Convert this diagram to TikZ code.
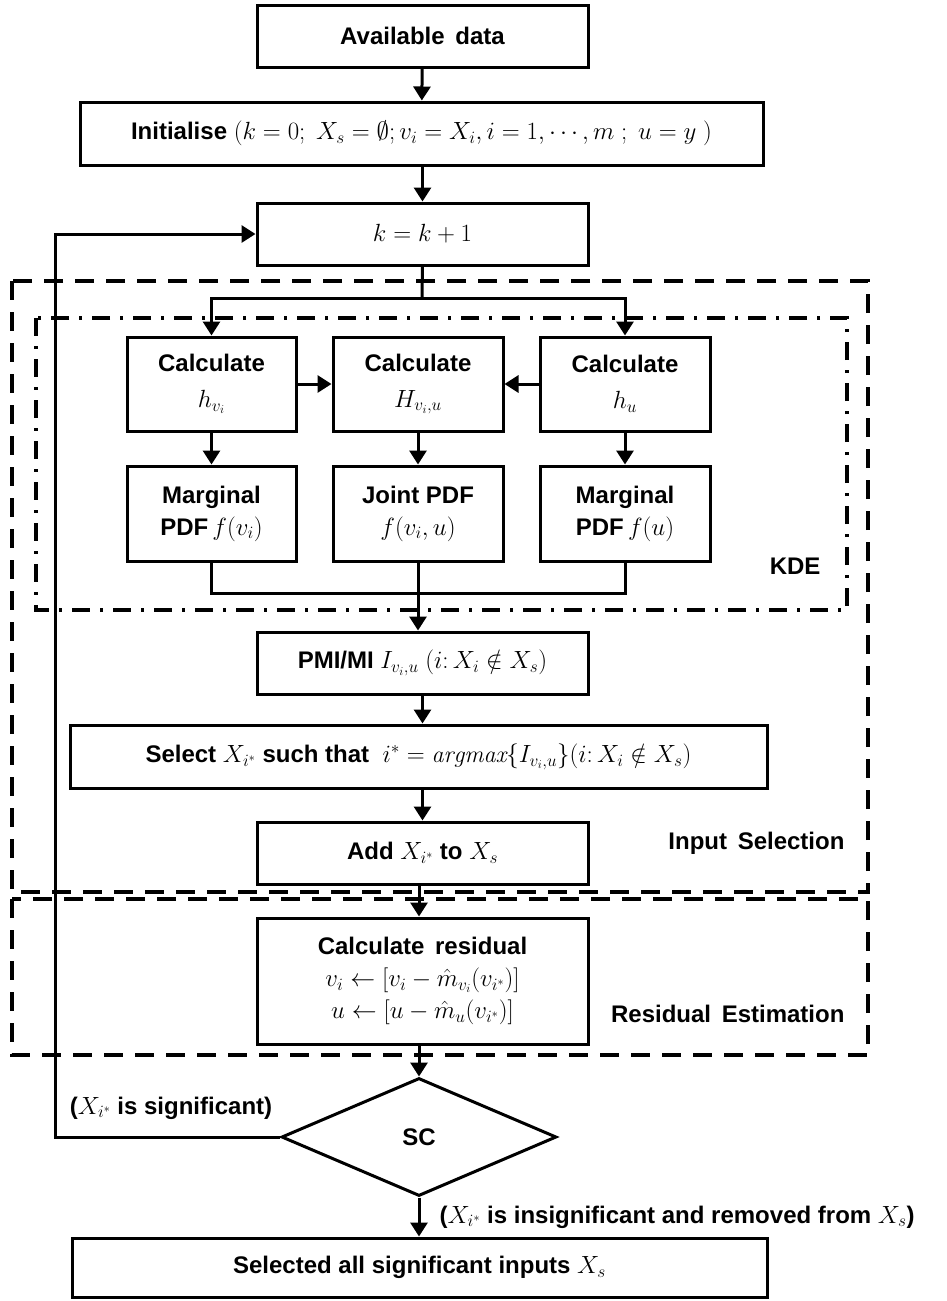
\documentclass[tikz,border=0pt]{standalone}
\usepackage{fontspec}
\usetikzlibrary{arrows.meta,shapes.geometric}
\newfontfamily\arb{Liberation Sans}
\begin{document}
\begin{tikzpicture}[x=1pt,y=-1pt,
  every node/.style={font=\arb\bfseries\fontsize{24}{32}\selectfont},
  box/.style={draw,line width=3pt,inner sep=0pt,align=center},
  arr/.style={line width=3pt,-{Triangle[width=17pt,length=14pt]}},
  ln/.style={line width=3pt},
  dashbox/.style={line width=3.5pt,dash pattern=on 19pt off 12pt},
  dotbox/.style={line width=3.5pt,dash pattern=on 18pt off 10pt on 3pt off 10pt}]
\useasboundingbox (0,0) rectangle (947,1301);
% group frames
\draw[dashbox] (12,281) rectangle (868,892);
\draw[dotbox] (36,318) rectangle (847,610);
\draw[dashbox] (12,899) rectangle (868,1055);
\node[anchor=east] (kde) at (824,566) {KDE};
\node[anchor=east] (insel) at (848,843) {Input\, Selection};
\node[anchor=east] (resest) at (848,1014) {Residual\, Estimation};
% main boxes
\node[box,minimum width=331pt,minimum height=62pt] (avail) at (422.5,36) {Available\, data};
\node[box,minimum width=683pt,minimum height=63pt] (init) at (421.5,133.5) {Initialise $\big(k=0;\ X_s=\emptyset; v_i=X_i, i=1,\cdots,m\ ;\ u=y\ \big)$};
\node[box,minimum width=331pt,minimum height=62pt] (kb) at (422.5,234) {$k=k+1$};
\node[box,minimum width=169pt,minimum height=94pt] (c1) at (211.5,384) {Calculate\\[4pt]$h_{v_i}$};
\node[box,minimum width=170pt,minimum height=94pt] (c2) at (418,384) {Calculate\\[4pt]$H_{v_i,u}$};
\node[box,minimum width=170pt,minimum height=94pt] (c3) at (625,384) {Calculate\\[4pt]$h_u$};
\node[box,minimum width=169pt,minimum height=95pt] (m1) at (211.5,513.5) {Marginal\\PDF$\,f(v_i)$};
\node[box,minimum width=170pt,minimum height=95pt] (m2) at (418,513.5) {Joint PDF\\$f(v_i,u)$};
\node[box,minimum width=170pt,minimum height=95pt] (m3) at (625,513.5) {Marginal\\PDF$\,f(u)$};
\node[box,minimum width=331pt,minimum height=62pt] (pmi) at (422.5,663) {PMI/MI $I_{v_i,u}\ (i\colon X_i\notin X_s)$};
\node[box,minimum width=697pt,minimum height=63pt] (sel) at (418.5,756.5) {Select $X_{i^*}$ such that\; $i^*=\mathit{argmax}\{I_{v_i,u}\}(i\colon X_i\notin X_s)$};
\node[box,minimum width=331pt,minimum height=62pt] (add) at (422.5,853) {Add $X_{i^*}$ to $X_s$};
\node[box,minimum width=331pt,minimum height=126pt] (res) at (422.5,981) {Calculate\, residual\\$v_i\leftarrow\big[v_i-\hat{m}_{v_i}(v_{i^*})\big]$\\$u\leftarrow\big[u-\hat{m}_u(v_{i^*})\big]$};
\node[draw,line width=3pt,shape=diamond,inner sep=0pt,aspect=2.33,minimum width=275pt,minimum height=118pt] (sc) at (419,1137) {SC};
\node[box,minimum width=695pt,minimum height=59pt] (fin) at (419.5,1267.5) {Selected all significant inputs $X_s$};
% coordinates
\coordinate (split) at (422,298);
\coordinate (merge) at (418,593);
\coordinate (back) at (55,1137);
% connectors
\draw[arr] (avail) -- (init);
\draw[arr] (init.south -| kb) -- (kb);
\draw[ln] (kb.south) -- (split);
\draw[arr] (split) -| (c1.north);
\draw[arr] (split) -| (c3.north);
\draw[arr] (c1) -- (c2);
\draw[arr] (c3) -- (c2);
\draw[arr] (c1) -- (m1);
\draw[arr] (c2) -- (m2);
\draw[arr] (c3) -- (m3);
\draw[ln] (m1.south) |- (merge) -| (m3.south);
\draw[ln] (m2.south) -- (merge);
\draw[arr] (merge) -- (merge |- pmi.north);
\draw[arr] (pmi.south) -- (pmi.south |- sel.north);
\draw[arr] (pmi.south |- sel.south) -- (add.north);
\draw[arr] (add.south -| sc.north) -- (sc.north |- res.north);
\draw[arr] (sc.north |- res.south) -- (sc.north);
\draw[arr] (sc.south) -- (sc.south |- fin.north);
\draw[arr] (sc.west) -- (back) |- (kb.west);
\node (sig) at (171,1108) {($X_{i^*}$ is significant)};
\node[anchor=west] (insig) at (436,1217) {($X_{i^*}$ is insignificant and removed from $X_s$)};
\end{tikzpicture}
\end{document}
